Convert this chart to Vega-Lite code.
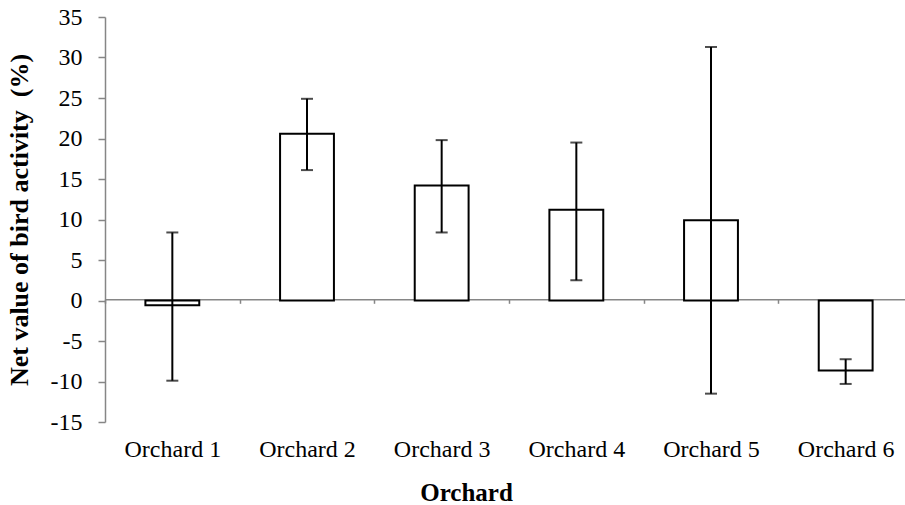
{
  "$schema": "https://vega.github.io/schema/vega-lite/v6.json",
  "autosize": {"type": "none"},
  "padding": {"left": 105, "top": 17, "right": 0, "bottom": 83},
  "width": 808,
  "height": 405,
  "background": "white",
  "config": {
    "view": {"stroke": null},
    "font": "Liberation Serif"
  },
  "data": {
    "values": [
      {"orchard": "Orchard 1", "mean": -0.6, "lower": -9.9, "upper": 8.4},
      {"orchard": "Orchard 2", "mean": 20.6, "lower": 16.1, "upper": 24.9},
      {"orchard": "Orchard 3", "mean": 14.2, "lower": 8.4, "upper": 19.8},
      {"orchard": "Orchard 4", "mean": 11.2, "lower": 2.5, "upper": 19.5},
      {"orchard": "Orchard 5", "mean": 9.9, "lower": -11.5, "upper": 31.3},
      {"orchard": "Orchard 6", "mean": -8.65, "lower": -10.3, "upper": -7.25}
    ]
  },
  "encoding": {
    "x": {
      "field": "orchard",
      "type": "nominal",
      "sort": null,
      "scale": {"paddingInner": 0, "paddingOuter": 0},
      "axis": {
        "title": "Orchard",
        "titleFont": "Liberation Serif",
        "titleFontSize": 25,
        "titleFontWeight": "bold",
        "titleColor": "black",
        "titlePadding": 19,
        "titleX": 361,
        "titleAlign": "center",
        "labelFont": "Liberation Serif",
        "labelFontSize": 24,
        "labelColor": "black",
        "labelAngle": 0,
        "labelPadding": 134,
        "offset": -122.7,
        "domainColor": "#868686",
        "domainWidth": 1.5,
        "tickColor": "#868686",
        "tickWidth": 1.5,
        "tickSize": 4,
        "tickBand": "extent"
      }
    }
  },
  "layer": [
    {
      "mark": {"type": "bar", "fill": "white", "stroke": "black", "strokeWidth": 2, "width": {"band": 0.4}},
      "encoding": {
        "y": {
          "field": "mean",
          "type": "quantitative",
          "scale": {"domain": [-15, 35], "nice": false, "zero": false},
          "axis": {
            "title": "Net value of bird activity\u00a0 (%)",
            "titleFont": "Liberation Serif",
            "titleFontSize": 26,
            "titleFontWeight": "bold",
            "titleColor": "black",
            "titlePadding": 18,
            "labelFont": "Liberation Serif",
            "labelFontSize": 24,
            "labelColor": "black",
            "labelPadding": 16,
            "labelExpr": "replace(datum.label, '\u2212', '-')",
            "values": [-15, -10, -5, 0, 5, 10, 15, 20, 25, 30, 35],
            "grid": false,
            "domainColor": "#868686",
            "domainWidth": 1.5,
            "tickColor": "#868686",
            "tickWidth": 1.5,
            "tickSize": 7
          }
        }
      }
    },
    {
      "mark": {"type": "rule", "color": "black", "strokeWidth": 2},
      "encoding": {
        "y": {"field": "lower", "type": "quantitative"},
        "y2": {"field": "upper"}
      }
    },
    {
      "mark": {"type": "tick", "orient": "horizontal", "color": "black", "thickness": 2, "size": 12},
      "encoding": {
        "y": {"field": "lower", "type": "quantitative"}
      }
    },
    {
      "mark": {"type": "tick", "orient": "horizontal", "color": "black", "thickness": 2, "size": 12},
      "encoding": {
        "y": {"field": "upper", "type": "quantitative"}
      }
    }
  ]
}
